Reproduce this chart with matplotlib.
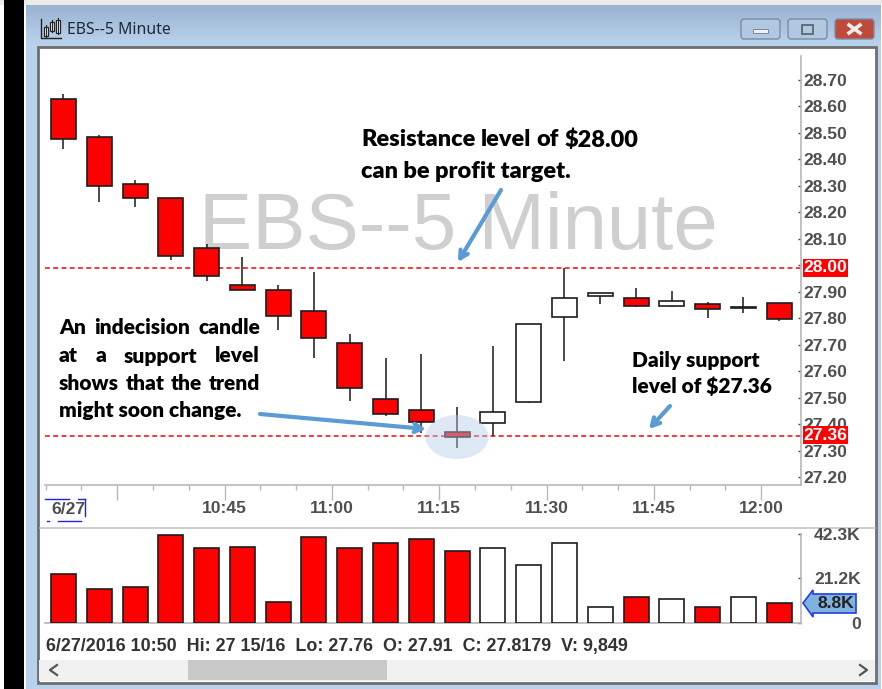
import numpy as np
import matplotlib
matplotlib.use('Agg')
import matplotlib.pyplot as plt
from matplotlib.patches import Rectangle, Ellipse, Polygon, FancyBboxPatch

## candle values, oldest first
opens = [28.628, 28.485, 28.307, 28.254, 28.065, 27.925, 27.905, 27.827, 27.706, 27.495, 27.453,
         27.370, 27.405, 27.483, 27.805, 27.883, 27.876, 27.847, 27.854, 27.837, 27.859]
closes = [28.477, 28.300, 28.254, 28.035, 27.960, 27.905, 27.810, 27.725, 27.536, 27.440, 27.408,
          27.350, 27.446, 27.778, 27.876, 27.896, 27.847, 27.865, 27.836, 27.844, 27.796]
highs = [28.647, 28.492, 28.322, 28.254, 28.080, 28.030, 27.925, 27.975, 27.740, 27.650, 27.665,
         27.465, 27.695, 27.778, 27.990, 27.896, 27.914, 27.903, 27.861, 27.880, 27.859]
lows = [28.440, 28.240, 28.220, 28.020, 27.940, 27.905, 27.755, 27.650, 27.487, 27.430, 27.366,
        27.310, 27.355, 27.480, 27.640, 27.853, 27.842, 27.842, 27.801, 27.820, 27.790]
volumes = [23.2, 16.1, 17.0, 41.8, 35.6, 36.1, 9.9, 40.9, 35.6, 38.0, 39.9,
           34.2, 35.6, 27.5, 38.0, 7.5, 12.3, 11.3, 7.5, 12.3, 9.3]

price_ticks = [27.2, 27.3, 27.4, 27.5, 27.6, 27.7, 27.8, 27.9, 28.0, 28.1, 28.2, 28.3, 28.4, 28.5, 28.6, 28.7]
volume_ticks = [0, 21.2, 42.3]
volume_labels = ['0', '21.2K', '42.3K']
time_pos = [1.5, 4.5, 7.5, 10.5, 13.5, 16.5, 19.5]
time_labels = ['', '10:45', '11:00', '11:15', '11:30', '11:45', '12:00']
resistance = 27.99
support = 27.355

W = 882
H = 689
UI = 'Liberation Sans'
NOTE = 'Lato'
GREY = '#4f4f4f'
AXIS = '#b8b8b8'
BLUE = '#5b9bd5'

fig = plt.figure(figsize=(W / 100, H / 100), dpi=100, facecolor='white')

def px_axes(left, top, right, bottom, **kw):
    return fig.add_axes([left / W, 1 - bottom / H, (right - left) / W, (bottom - top) / H], **kw)

## window frame, drawn in pixels
bg = fig.add_axes([0, 0, 1, 1], zorder=0)
bg.set_xlim(0, W)
bg.set_ylim(H, 0)
bg.axis('off')
bg.add_patch(Rectangle((0, 0), W, 5, fc='#ebebeb', ec='none'))
bg.add_patch(Rectangle((4, 0), 20, H, fc='black', ec='none'))
bg.add_patch(Rectangle((26, 5), 855, 684, fc='#b9d1ea', ec='none'))
grad = np.linspace(0, 1, 40)[:, None, None] * np.array([[[0.73, 0.83, 0.93]]]) + \
       (1 - np.linspace(0, 1, 40))[:, None, None] * np.array([[[0.60, 0.70, 0.82]]])
bg.imshow(grad, extent=[26, 881, 46, 5], aspect='auto', zorder=1)
bg.set_xlim(0, W)
bg.set_ylim(H, 0)
bg.add_patch(Rectangle((38, 47), 838, 636, fc='white', ec='#6e6e6e', lw=2, zorder=2))
bg.add_patch(Rectangle((39, 660), 836, 21, fc='#f0f0f0', ec='none', zorder=3))
bg.add_patch(Rectangle((188, 660), 199, 20, fc='#c8c8c8', ec='none', zorder=4))
bg.plot([40, 875], [528, 528], color='#c4c4c4', lw=1.2, zorder=3)

## price panel
ax = px_axes(40, 56, 801, 485, zorder=2, facecolor='none')
x = np.arange(len(opens))
o = np.array(opens)
c = np.array(closes)
colors = ['white' if c[i] > o[i] else 'red' for i in x]
ax.text(458, 228, 'EBS--5 Minute', transform=bg.transData, family=UI, fontsize=57.5,
        color='#cfcfcf', ha='center', va='center', zorder=1)
ax.vlines(x, lows, highs, color='#2b2b2b', lw=1.2, zorder=3)
ax.bar(x, np.abs(c - o), bottom=np.minimum(o, c), width=0.7, color=colors, edgecolor='#1c1c1c', lw=1.2, zorder=4)
ax.hlines([resistance, support], -0.52, 20.6, color='red', lw=1.1, linestyles=(0, (3.2, 2.2)), zorder=2)
ax.set_xlim(-0.656, 20.61)
ax.set_ylim(27.170, 28.7907)
for s in ['top', 'left']:
    ax.spines[s].set_visible(False)
ax.spines['right'].set_color(AXIS)
ax.spines['right'].set_linewidth(1.2)
ax.spines['bottom'].set_color(AXIS)
ax.spines['bottom'].set_linewidth(1.2)
ax.spines['bottom'].set_bounds(-0.52, 20.61)
ax.yaxis.tick_right()
ax.set_yticks(price_ticks)
ax.set_yticklabels(['' if v == 28.0 else '%.2f' % v for v in price_ticks], family=UI, weight='bold',
                   fontsize=12.6, color=GREY)
ax.tick_params(axis='y', direction='in', length=2.4, width=1, color='#444444', pad=1.5)
ax.set_xticks(time_pos)
ax.set_xticklabels(time_labels, family=UI, weight='bold', fontsize=12.6, color=GREY)
ax.set_xticks(np.arange(-0.5, 20, 1), minor=True)
ax.tick_params(axis='x', which='major', length=10.5, width=1, color=AXIS, pad=1)
ax.tick_params(axis='x', which='minor', length=3.6, width=1, color=AXIS)

## volume panel
vol = px_axes(40, 528, 801, 622.7, zorder=2, facecolor='none')
vol.bar(x, volumes, width=0.7, color=colors, edgecolor='#1c1c1c', lw=1.2, zorder=3)
vol.set_xlim(-0.656, 20.61)
vol.set_ylim(0, 45.16)
for s in ['top', 'left']:
    vol.spines[s].set_visible(False)
vol.spines['right'].set_color(AXIS)
vol.spines['right'].set_linewidth(1.2)
vol.spines['right'].set_bounds(0, 42.3)
vol.spines['bottom'].set_color(AXIS)
vol.spines['bottom'].set_linewidth(1.2)
vol.spines['bottom'].set_bounds(-0.52, 20.61)
vol.set_xticks([])
vol.yaxis.tick_right()
vol.set_yticks(volume_ticks)
vol.set_yticklabels(volume_labels, family=UI, weight='bold', fontsize=12.6, color=GREY, ha='right')
vol.tick_params(axis='y', direction='in', length=2.4, width=1, color='#444444', pad=43)

## everything laid on top, in pixels
top = fig.add_axes([0, 0, 1, 1], zorder=5, facecolor='none')
top.set_xlim(0, W)
top.set_ylim(H, 0)
top.axis('off')

## title bar
top.text(67, 30, 'EBS--5 Minute', family='Noto Sans', fontsize=11.4, color='#1f2a38', va='center')
top.plot([41, 41, 61], [19, 38, 38], color='#222222', lw=1)
for ix, t, b in [(46, 27, 36), (52, 22, 31), (58, 20, 33)]:
    top.plot([ix, ix], [t - 2, b + 1], color='#222222', lw=0.8)
    top.add_patch(Rectangle((ix - 2, t), 4, b - t, fc='white', ec='#222222', lw=0.9))
for l, r, fc in [(739, 782, '#b0c8e0'), (786, 829, '#b0c8e0'), (833, 876, '#bf4a3c')]:
    top.add_patch(FancyBboxPatch((l + 2, 19), r - l - 4, 20, boxstyle='round,pad=0,rounding_size=3',
                                 fc=fc, ec='#7a8ea3', lw=1))
top.add_patch(Rectangle((753, 29), 15, 4, fc='#eef2f6', ec='#7b8794', lw=0.7))
top.add_patch(Rectangle((802, 25), 11, 9, fc='none', ec='#5a6875', lw=1.3))
top.plot([849, 860], [25, 33], color='#eeeeee', lw=2.6)
top.plot([849, 860], [33, 25], color='#eeeeee', lw=2.6)

## price flags
for lab, yy in [('28.00', 268), ('27.36', 435)]:
    top.add_patch(Rectangle((803, yy - 9), 45, 18, fc='red', ec='none'))
    top.text(825.5, yy, lab, family=UI, weight='bold', fontsize=12.6, color='white', ha='center', va='center')

## date label and its selection marks
top.text(68, 510, '6/27', family=UI, weight='bold', fontsize=12.6, color=GREY, ha='center', va='center')
for xs, ys in [((45, 69), (499, 499)), ((78, 85), (499, 499)), ((85, 85), (499, 516)),
               ((47, 49), (521, 521)), ((58, 81), (521, 521))]:
    top.plot(xs, ys, color='#2222dd', lw=1)

## last volume flag
top.add_patch(Polygon([(803, 603), (813, 590), (813, 594), (856, 594), (856, 613), (813, 613), (813, 617)],
                      fc='#7fb2de', ec='#1f3fe0', lw=1.2))
top.text(836, 603.5, '8.8K', family=UI, weight='bold', fontsize=12.6, color='#222222', ha='center', va='center')

## status line and scroll arrows
top.text(46, 646, '6/27/2016 10:50  Hi: 27 15/16  Lo: 27.76  O: 27.91  C: 27.8179  V: 9,849', family=UI,
         weight='bold', fontsize=12.85, color='#333333', va='center')
top.plot([57, 50, 57], [665, 670, 675], color='#555555', lw=1.6)
top.plot([860, 867, 860], [665, 670, 675], color='#555555', lw=1.6)

## highlight round the indecision candle
top.add_patch(Ellipse((457, 437), 63, 44, fc='#b5cde8', ec='none', alpha=0.45))

## callouts
rend = fig.canvas.get_renderer()
def note(line, x0, yy, size, x1=None):
    if x1 is None:
        top.text(x0, yy, line, family=NOTE, weight='heavy', fontsize=size, color='black', va='center')
        return
    words = [top.text(0, yy, w, family=NOTE, weight='heavy', fontsize=size, color='black', va='center')
             for w in line.split()]
    sizes = [w.get_window_extent(rend).width for w in words]
    gap = (x1 - x0 - sum(sizes)) / (len(words) - 1)
    pos = x0
    for w, s in zip(words, sizes):
        w.set_x(pos)
        pos += s + gap

note('Resistance level of $28.00', 361, 140, 16.9, 638)
note('can be profit target.', 361, 171, 16.9)
note('An indecision candle', 59, 328, 15, 260)
note('at a support level', 59, 356, 15, 260)
note('shows that the trend', 59, 383, 15, 260)
note('might soon change.', 59, 411, 15)
note('Daily support', 632, 360, 15)
note('level of $27.36', 632, 386, 15)

arrow = dict(arrowstyle='->,head_length=0.55,head_width=0.3', color=BLUE, lw=3, shrinkA=0, shrinkB=0)
top.annotate('', xy=(458, 262), xytext=(501, 190), arrowprops=arrow)
top.annotate('', xy=(426, 429), xytext=(260, 414), arrowprops=arrow)
top.annotate('', xy=(649, 429), xytext=(670, 406), arrowprops=arrow)

fig.savefig('out.png', dpi=100)
